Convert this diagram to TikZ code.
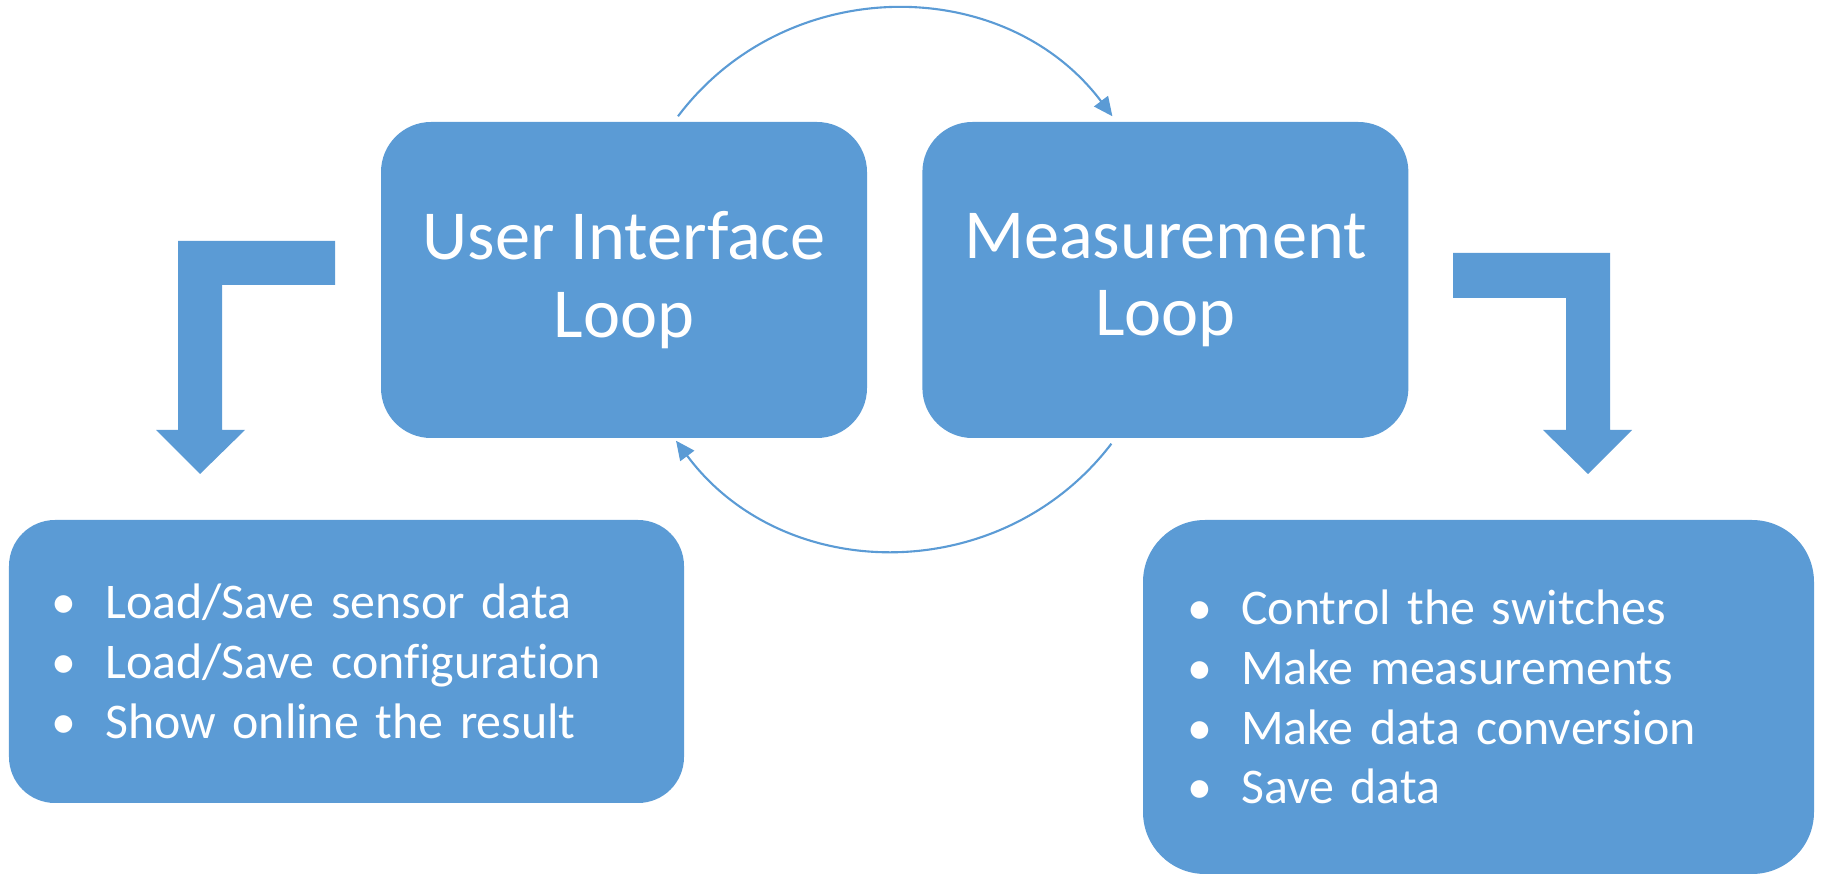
\documentclass[tikz,border=0pt]{standalone}
\usepackage{fontspec}
\setmainfont{Carlito}[Ligatures={NoCommon}]
\usetikzlibrary{positioning,arrows.meta}
\definecolor{boxblue}{HTML}{5B9BD5}
\newcommand{\itm}{\makebox[15.4pt][l]{\textbullet}}

\begin{document}
\begin{tikzpicture}[loopbox/.style={rectangle,rounded corners=0.5cm,fill=boxblue,text=white,align=center,
    minimum width=4.86cm,minimum height=3.16cm,inner sep=0pt,font=\fontsize{20}{22}\selectfont},
  listbox/.style={rectangle,fill=boxblue,text=white,align=left,inner ysep=0pt,font=\fontsize{14.2}{17}\selectfont},
  cyc/.style={draw=boxblue,line width=0.6pt,-{Triangle[length=5.4pt,width=4.9pt]}}]
\useasboundingbox (0,0) rectangle (18.23,8.74);

\node[loopbox] (ui) at (6.24,5.94) {User Interface\\Loop};
\node[loopbox,right=0.54cm of ui] (meas) {Measurement\\Loop};

\node[listbox,rounded corners=0.46cm,text width=5.91cm,inner xsep=0.42cm,minimum height=2.83cm] (uitasks) at (3.465,2.125)
  {\itm Load/Save sensor data\\ \itm Load/Save configuration\\ \itm Show online the result};
\node[listbox,rounded corners=0.62cm,text width=5.83cm,inner xsep=0.44cm,minimum height=3.54cm] (meastasks) at (14.785,1.77)
  {\itm Control the switches\\ \itm Make measurements\\ \itm Make data conversion\\ \itm Save data};

% loop arrows
\draw[cyc] ([shift={(0.54,0.05)}]ui.north) to[bend left=53,looseness=1.06] ([shift={(-0.53,0.05)}]meas.north);
\draw[cyc] ([shift={(-0.54,-0.05)}]meas.south) to[bend left=53,looseness=1.06] ([shift={(0.52,-0.02)}]ui.south);

% bent arrows down to the task lists
\fill[boxblue] (3.35,6.33) -- (3.35,5.89) -- (2.22,5.89) -- (2.22,4.44) -- (2.45,4.44) -- (2.00,4.00)
  -- (1.56,4.44) -- (1.78,4.44) -- (1.78,6.33) -- cycle;
\fill[boxblue] (14.53,6.21) -- (14.53,5.76) -- (15.66,5.76) -- (15.66,4.44) -- (15.43,4.44) -- (15.88,4.00)
  -- (16.32,4.44) -- (16.10,4.44) -- (16.10,6.21) -- cycle;
\end{tikzpicture}
\end{document}
